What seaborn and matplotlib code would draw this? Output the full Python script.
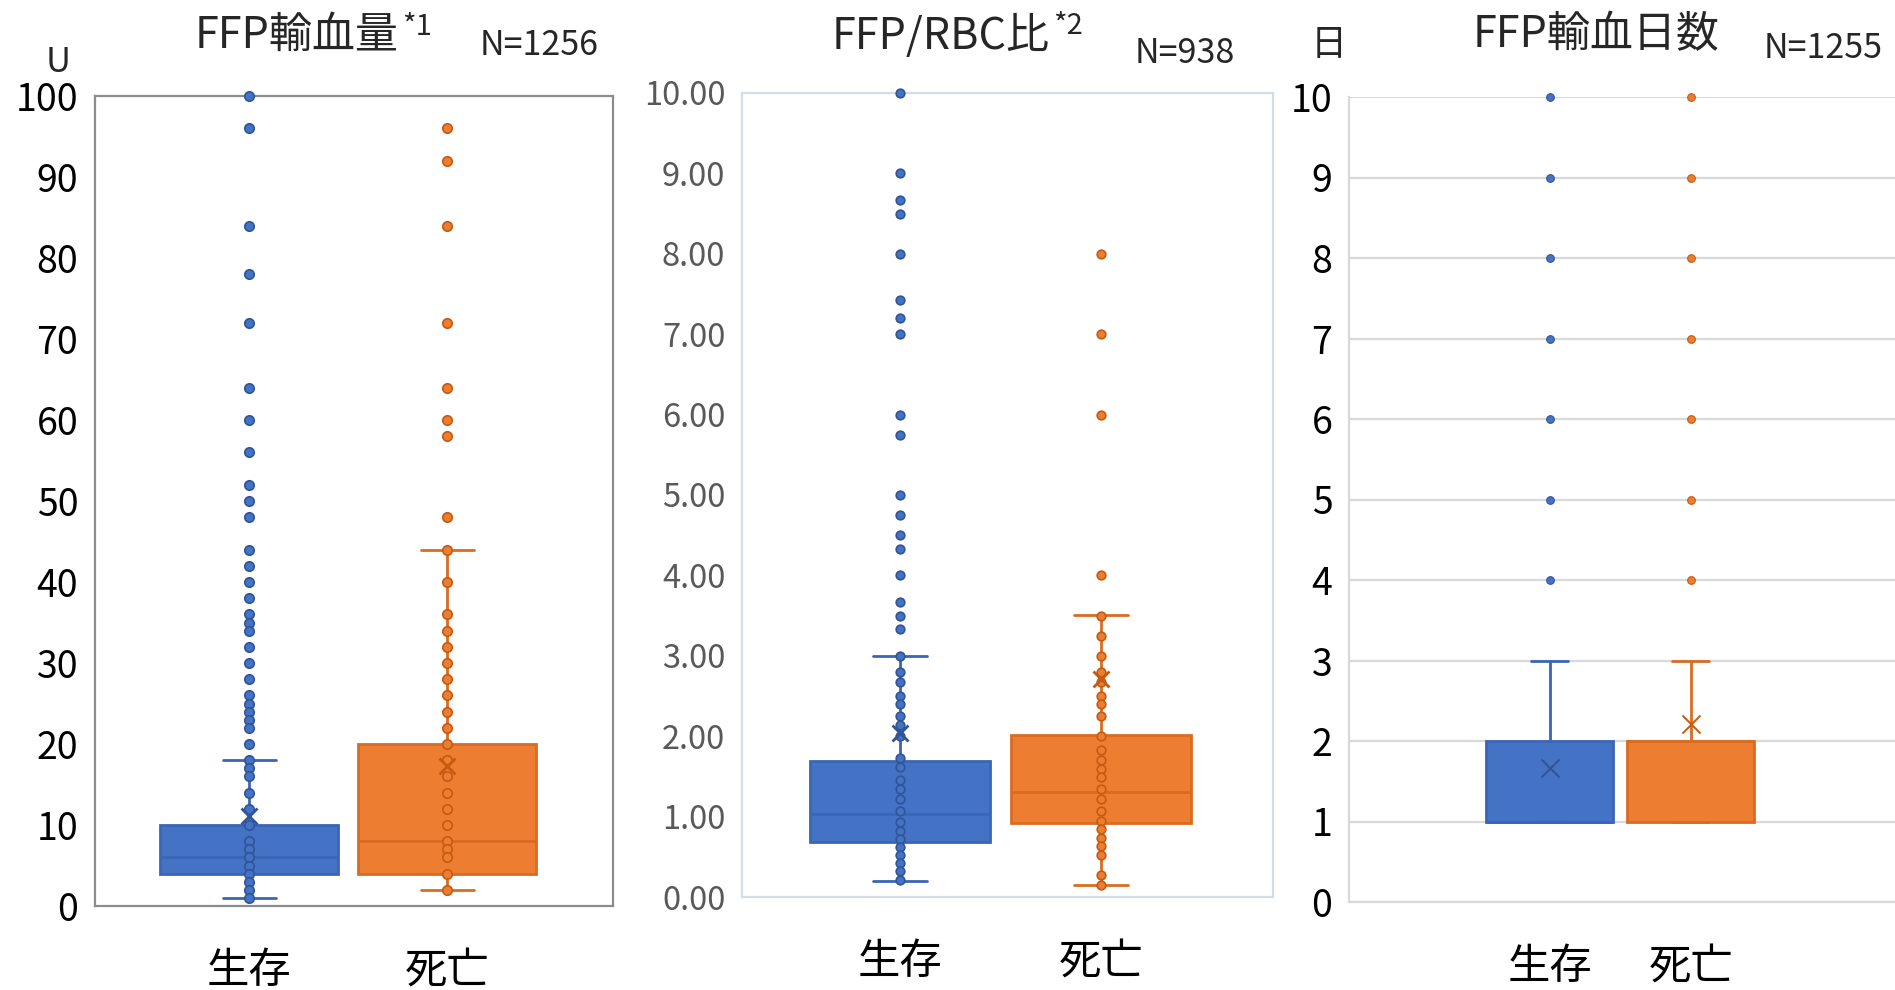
import numpy as np
import pandas as pd
import matplotlib
matplotlib.use("Agg")
import matplotlib.pyplot as plt
from matplotlib.transforms import IdentityTransform
import seaborn as sns

# ---------------- data ----------------
groups = ["生存", "死亡"]

# Panel 1: FFP volume
vol_title = "FFP輸血量"
vol_sup = "*1"
vol_n = "N=1256"
vol_unit = "U"
vol_yticks = [0, 10, 20, 30, 40, 50, 60, 70, 80, 90, 100]
# five-number summary: lower whisker, Q1, median, Q3, upper whisker
vol_box_survive = [1, 4, 6, 10, 18]
vol_box_death = [2, 4, 8, 20, 44]
vol_mean = [11.1, 17.3]
vol_points_survive = [100, 96, 84, 78, 72, 64, 60, 56, 52, 50, 48, 44, 42, 40, 38, 36, 35, 34,
                      32, 30, 28, 26, 25, 24, 23, 22, 20, 18, 17, 16, 14, 12, 10, 8, 7, 6, 5,
                      4, 3, 2, 1]
vol_points_death = [96, 92, 84, 72, 64, 60, 58, 48, 44, 40, 36, 34, 32, 30, 28, 26, 24, 22,
                    20, 18, 16, 14, 12, 10, 8, 7, 6, 4, 2]

# Panel 2: FFP/RBC ratio
ratio_title = "FFP/RBC比"
ratio_sup = "*2"
ratio_n = "N=938"
ratio_yticks = [0, 1, 2, 3, 4, 5, 6, 7, 8, 9, 10]
ratio_box_survive = [0.20, 0.69, 1.03, 1.69, 3.00]
ratio_box_death = [0.15, 0.92, 1.30, 2.02, 3.51]
ratio_mean = [2.04, 2.71]
ratio_points_survive = [10.0, 9.0, 8.67, 8.5, 8.0, 7.43, 7.2, 7.0, 6.0, 5.75, 5.0, 4.75, 4.5,
                        4.33, 4.0, 3.67, 3.5, 3.33, 3.0, 2.8, 2.67, 2.5, 2.4, 2.25, 2.14, 2.0,
                        1.73, 1.62, 1.45, 1.34, 1.22, 1.07, 0.93, 0.82, 0.72, 0.62, 0.52, 0.42,
                        0.32, 0.21]
ratio_points_death = [8.0, 7.0, 6.0, 4.0, 3.5, 3.25, 3.0, 2.8, 2.67, 2.5, 2.4, 2.25, 2.0, 1.83,
                      1.7, 1.59, 1.49, 1.34, 1.22, 1.07, 0.95, 0.85, 0.74, 0.64, 0.52, 0.27,
                      0.15]

# Panel 3: FFP transfusion days
days_title = "FFP輸血日数"
days_n = "N=1255"
days_unit = "日"
days_yticks = [0, 1, 2, 3, 4, 5, 6, 7, 8, 9, 10]
days_box_survive = [1, 1, 1, 2, 3]
days_box_death = [1, 1, 2, 2, 3]
days_mean = [1.67, 2.21]
days_points_survive = [4, 5, 6, 7, 8, 9, 10]
days_points_death = [4, 5, 6, 7, 8, 9, 10]

# ---------------- style ----------------
sns.set_style("white")
plt.rcParams["font.family"] = ["Noto Sans CJK JP", "DejaVu Sans"]

W, H = 1895, 990
fig = plt.figure(figsize=(W / 100, H / 100), dpi=100)


def rect(l, t, r, b):
    return [l / W, 1 - b / H, (r - l) / W, (b - t) / H]


ax1 = fig.add_axes(rect(95, 96, 613, 906))
ax2 = fig.add_axes(rect(742, 93, 1273, 897))
ax3 = fig.add_axes(rect(1349, 97, 1895, 902))

faces = ["#4472C4", "#ED7D31"]
edges = ["#3A66B5", "#D86C22"]
dot_edges = ["#2F5597", "#C55A11"]


def draw(ax, boxes, means, points, dot_size, dot_lw, mean_size, mean_lw, capw):
    for g, box, m, pts, fc, ec, dc in zip(groups, boxes, means, points, faces, edges, dot_edges):
        sns.boxplot(x=[g] * len(box), y=box, order=groups, color=fc, linecolor=ec,
                    linewidth=2, width=0.9, whis=(0, 100), showfliers=False,
                    saturation=1, capwidths=capw, ax=ax)
        if len(pts):
            sns.stripplot(x=[g] * len(pts), y=pts, order=groups, jitter=False, color=fc,
                          edgecolor=dc, linewidth=dot_lw, size=dot_size, ax=ax,
                          zorder=3, clip_on=False)
        sns.stripplot(x=[g], y=[m], order=groups, jitter=False, marker="x", color=dc,
                      linewidth=mean_lw, size=mean_size, ax=ax, zorder=4)


draw(ax1, [vol_box_survive, vol_box_death], vol_mean,
     [vol_points_survive, vol_points_death], 6.8, 1.2, 11.5, 2.0, 0.268)
draw(ax2, [ratio_box_survive, ratio_box_death], ratio_mean,
     [ratio_points_survive, ratio_points_death], 6.2, 1.2, 11.5, 2.0, 0.268)
draw(ax3, [days_box_survive, days_box_death], days_mean,
     [days_points_survive, days_points_death], 5.5, 0.8, 13, 1.4, 0.267)

# axes 1
ax1.set_xlim(-0.779, 1.837)
ax1.set_ylim(0, 100)
ax1.set_yticks(vol_yticks)
ax1.set_yticklabels([str(v) for v in vol_yticks])
for s in ax1.spines.values():
    s.set_visible(True)
    s.set_color("#8C8C8C")
    s.set_linewidth(1.6)
ax1.tick_params(axis="y", length=0, labelsize=27, pad=12, labelcolor="black")

# axes 2
ax2.set_xlim(-0.786, 1.856)
ax2.set_ylim(0, 10)
ax2.set_yticks(ratio_yticks)
ax2.set_yticklabels([f"{v:.2f}" for v in ratio_yticks])
for s in ax2.spines.values():
    s.set_visible(True)
    s.set_color("#D6DCE5")
    s.set_linewidth(1.6)
ax2.tick_params(axis="y", length=0, labelsize=23.5, pad=12, labelcolor="#595959")

# axes 3
ax3.set_xlim(-1.423, 2.449)
ax3.set_ylim(0, 10)
ax3.set_yticks(days_yticks)
ax3.set_yticklabels([str(v) for v in days_yticks])
for k, s in ax3.spines.items():
    s.set_color("#D9D9D9")
    s.set_linewidth(1.6)
    s.set_visible(k in ("left", "bottom"))
ax3.yaxis.grid(True, color="#D9D9D9", linewidth=1.6)
ax3.set_axisbelow(True)
ax3.tick_params(axis="y", length=0, labelsize=27, pad=12, labelcolor="black")

for ax in (ax1, ax2, ax3):
    ax.set_xlabel("")
    ax.set_ylabel("")
    ax.set_xticks([0, 1])
    ax.set_xticklabels(groups)
    ax.tick_params(axis="x", length=0, labelsize=30.5, pad=31, labelcolor="black")
    ax.set_facecolor("white")


# titles and annotations
def fx(x):
    return x / W


def fy(y):
    return 1 - y / H


t1 = fig.text(fx(297), fy(48), vol_title, ha="center", va="baseline", fontsize=31)
t2 = fig.text(fx(941), fy(49), ratio_title, ha="center", va="baseline", fontsize=31)
t3 = fig.text(fx(1596), fy(47), days_title, ha="center", va="baseline", fontsize=31)
fig.text(fx(539), fy(55), vol_n, ha="center", va="baseline", fontsize=24.5)
fig.text(fx(1185), fy(63), ratio_n, ha="center", va="baseline", fontsize=24.5)
fig.text(fx(1823), fy(58), days_n, ha="center", va="baseline", fontsize=24.5)
fig.text(fx(58), fy(72), vol_unit, ha="center", va="baseline", fontsize=25)
fig.text(fx(1329), fy(45), days_unit, ha="center", va="center", fontsize=26)

renderer = fig.canvas.get_renderer()
bb1 = t1.get_window_extent(renderer)
bb2 = t2.get_window_extent(renderer)
fig.text(bb1.x1 + 3, H - 35, vol_sup, transform=IdentityTransform(),
         ha="left", va="baseline", fontsize=21)
fig.text(bb2.x1 + 3, H - 34, ratio_sup, transform=IdentityTransform(),
         ha="left", va="baseline", fontsize=21)

fig.savefig("out.png", dpi=100, facecolor="white")
